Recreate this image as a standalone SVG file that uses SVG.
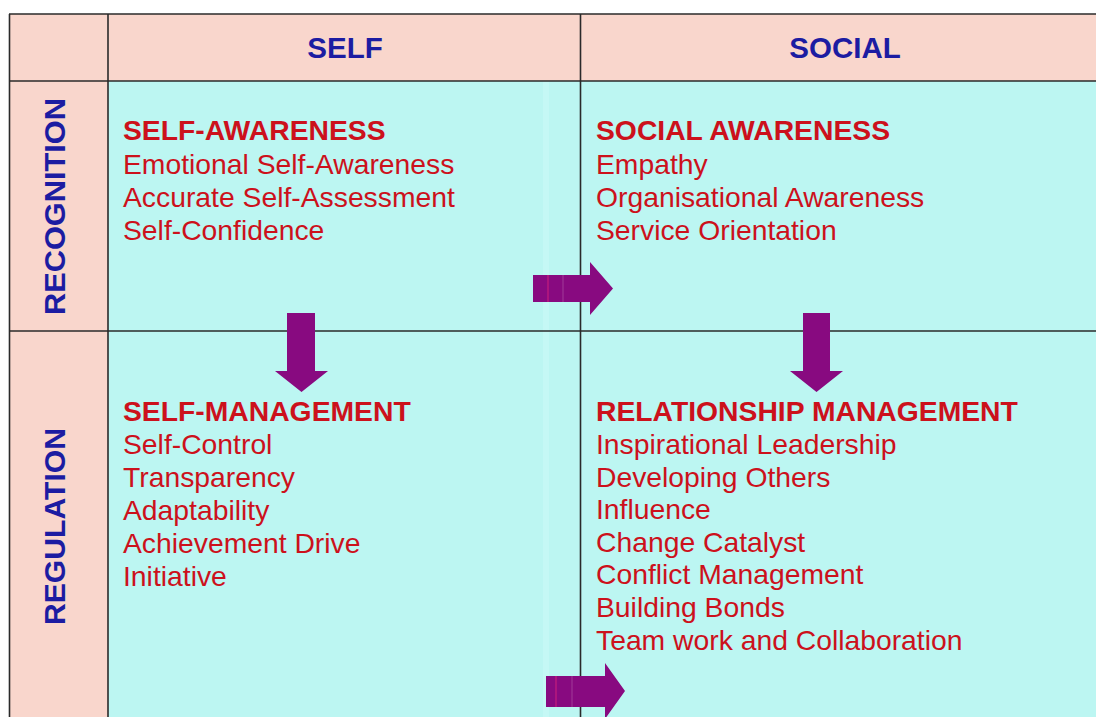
<svg xmlns="http://www.w3.org/2000/svg" width="1096" height="717" viewBox="0 0 1096 717">
<style>
.hdr{fill:#f9d6cc}
.cell{fill:#bcf6f2}
.ln{stroke:#2a2a2a;stroke-width:1.6;fill:none}
.blue{font-family:"Liberation Sans",Arial,sans-serif;font-weight:bold;font-size:29.5px;fill:#1c1ca2}
.head{font-family:"Liberation Sans",Arial,sans-serif;font-weight:bold;font-size:28.3px;fill:#cc111c}
.item{font-family:"Liberation Sans",Arial,sans-serif;font-size:28.3px;fill:#cc111c}
.arrow{fill:#880a80}
</style>
<rect width="1096" height="717" fill="#ffffff"/>
<g id="backgrounds">
<rect class="hdr" x="9" y="14" width="1100" height="67"/>
<rect class="hdr" x="9" y="81" width="99" height="650"/>
<rect class="cell" x="108" y="81" width="1000" height="650"/>
<rect x="543" y="81" width="6" height="650" fill="#c9f9f6" opacity="0.7"/>
</g>
<g id="grid">
<line class="ln" x1="9" y1="14" x2="1100" y2="14"/>
<line class="ln" x1="9" y1="81" x2="1100" y2="81"/>
<line class="ln" x1="9" y1="331" x2="1100" y2="331"/>
<line class="ln" x1="9.5" y1="14" x2="9.5" y2="720"/>
<line class="ln" x1="108" y1="14" x2="108" y2="720"/>
<line class="ln" x1="580.5" y1="14" x2="580.5" y2="720"/>
</g>
<g id="header-self"><text class="blue" x="345" y="58" text-anchor="middle">SELF</text></g>
<g id="header-social"><text class="blue" x="845" y="58" text-anchor="middle">SOCIAL</text></g>
<g id="row-recognition"><text class="blue" transform="translate(65,206.5) rotate(-90)" text-anchor="middle" textLength="217" lengthAdjust="spacingAndGlyphs">RECOGNITION</text></g>
<g id="row-regulation"><text class="blue" transform="translate(65,526.5) rotate(-90)" text-anchor="middle" textLength="197" lengthAdjust="spacingAndGlyphs">REGULATION</text></g>
<g id="self-awareness">
<text class="head" x="123" y="140">SELF-AWARENESS</text>
<text class="item" x="123" y="174">Emotional Self-Awareness</text>
<text class="item" x="123" y="207">Accurate Self-Assessment</text>
<text class="item" x="123" y="240">Self-Confidence</text>
</g>
<g id="social-awareness">
<text class="head" x="596" y="140">SOCIAL AWARENESS</text>
<text class="item" x="596" y="174">Empathy</text>
<text class="item" x="596" y="207">Organisational Awareness</text>
<text class="item" x="596" y="240">Service Orientation</text>
</g>
<g id="self-management">
<text class="head" x="123" y="421">SELF-MANAGEMENT</text>
<text class="item" x="123" y="454">Self-Control</text>
<text class="item" x="123" y="487">Transparency</text>
<text class="item" x="123" y="520">Adaptability</text>
<text class="item" x="123" y="553">Achievement Drive</text>
<text class="item" x="123" y="586">Initiative</text>
</g>
<g id="relationship-management">
<text class="head" x="596" y="421">RELATIONSHIP MANAGEMENT</text>
<text class="item" x="596" y="454">Inspirational Leadership</text>
<text class="item" x="596" y="487">Developing Others</text>
<text class="item" x="596" y="519">Influence</text>
<text class="item" x="596" y="552">Change Catalyst</text>
<text class="item" x="596" y="584">Conflict Management</text>
<text class="item" x="596" y="617">Building Bonds</text>
<text class="item" x="596" y="650">Team work and Collaboration</text>
</g>
<g id="connectors">
<polygon class="arrow" points="533,275 590,275 590,262 613,288.5 590,315 590,302 533,302"/>
<line x1="548" y1="275" x2="548" y2="302" stroke="#d0207a" stroke-width="1"/>
<line x1="563" y1="275" x2="563" y2="302" stroke="#a03a98" stroke-width="1"/>
<polygon class="arrow" points="287,313 315,313 315,371 328,371 301.5,392 275,371 287,371"/>
<polygon class="arrow" points="803,313 830,313 830,371 843,371 816.5,392 790,371 803,371"/>
<polygon class="arrow" points="546,676 605,676 605,663 625,691 605,719 605,707 546,707"/>
<line x1="556" y1="676" x2="556" y2="707" stroke="#d0207a" stroke-width="1"/>
<line x1="572" y1="676" x2="572" y2="707" stroke="#a03a98" stroke-width="1"/>
</g>
</svg>
